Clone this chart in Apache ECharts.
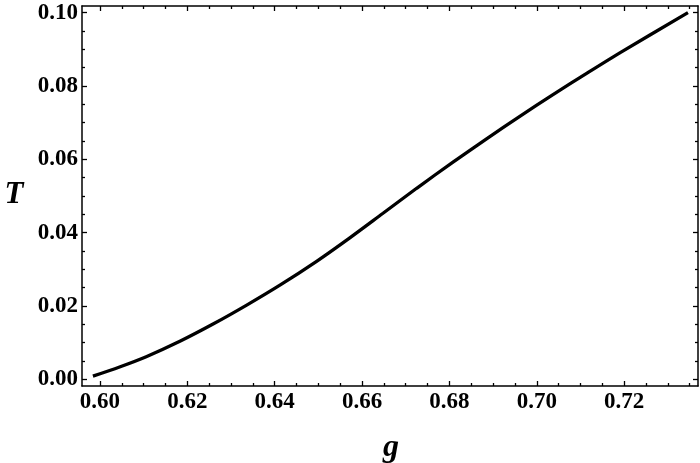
<!DOCTYPE html>
<html>
<head>
<meta charset="utf-8">
<script src="https://cdn.jsdelivr.net/npm/echarts@6/dist/echarts.min.js"></script>
<style>html,body{margin:0;padding:0;background:#fff}#c{width:700px;height:463px}</style>
</head>
<body>
<div id="c"></div>
<script>
var gValues = [0.5984, 0.6045, 0.6106, 0.6183, 0.6259, 0.6335, 0.6412, 0.6496, 0.6572, 0.6648, 0.6725, 0.6809, 0.6885, 0.6962, 0.7038, 0.7115, 0.7191, 0.7346];
var tValues = [0.0009, 0.0034, 0.0062, 0.0104, 0.0151, 0.0202, 0.0257, 0.0322, 0.0386, 0.0453, 0.0521, 0.0593, 0.0656, 0.0718, 0.0777, 0.0835, 0.0891, 0.1000];
var xTicks = [0.60, 0.62, 0.64, 0.66, 0.68, 0.70, 0.72];
var yTicks = [0.00, 0.02, 0.04, 0.06, 0.08, 0.10];
var xLabels = ['0.60', '0.62', '0.64', '0.66', '0.68', '0.70', '0.72'];
var yLabels = ['0.00', '0.02', '0.04', '0.06', '0.08', '0.10'];

var xMin = 0.5959, xMax = 0.7369, yMin = -0.0018, yMax = 0.1018;

function minors(majors, lo, hi) {
  var step = (majors[1] - majors[0]) / 4, out = [];
  for (var v = majors[0] - 4 * step; v <= majors[majors.length - 1] + 4 * step + 1e-9; v += step) {
    var r = Math.round(v * 10000) / 10000;
    if (r > lo && r < hi && majors.every(function (m) { return Math.abs(m - r) > 1e-6; })) out.push(r);
  }
  return out;
}
var xMinor = minors(xTicks, xMin, xMax);
var yMinor = minors(yTicks, yMin, yMax);

var font = '"Liberation Serif", "Times New Roman", serif';
function axis(kind, pos, ticks, len, labels, showLine) {
  return {
    type: 'value', position: pos,
    min: kind === 'x' ? xMin : yMin, max: kind === 'x' ? xMax : yMax,
    splitLine: { show: false },
    axisLine: { show: showLine, onZero: false, lineStyle: { color: '#000', width: 1.5 } },
    axisTick: { show: true, inside: true, length: len, customValues: ticks, lineStyle: { color: '#000', width: 1.3 } },
    axisLabel: labels ? {
      show: true, customValues: ticks, color: '#000', fontFamily: font, fontWeight: 'bold', fontSize: 23,
      margin: kind === 'x' ? 5 : 4,
      formatter: function (v) {
        var arr = kind === 'x' ? xTicks : yTicks, lab = kind === 'x' ? xLabels : yLabels;
        for (var i = 0; i < arr.length; i++) if (Math.abs(arr[i] - v) < 1e-6) return lab[i];
        return '';
      }
    } : { show: false }
  };
}

var chart = echarts.init(document.getElementById('c'), null, { renderer: 'canvas' });
chart.setOption({
  animation: false,
  backgroundColor: '#fff',
  grid: { left: 82, right: 2, top: 6, bottom: 77, containLabel: false, outerBoundsMode: 'none' },
  xAxis: [
    axis('x', 'bottom', xTicks, 5, true, true),
    axis('x', 'bottom', xMinor, 3, false, false),
    axis('x', 'top', xTicks, 5, false, true),
    axis('x', 'top', xMinor, 3, false, false)
  ],
  yAxis: [
    axis('y', 'left', yTicks, 5, true, true),
    axis('y', 'left', yMinor, 3, false, false),
    axis('y', 'right', yTicks, 5, false, true),
    axis('y', 'right', yMinor, 3, false, false)
  ],
  series: [{
    type: 'line', xAxisIndex: 0, yAxisIndex: 0,
    data: gValues.map(function (g, i) { return [g, tValues[i]]; }),
    smooth: 0.3, showSymbol: false, symbol: 'none',
    lineStyle: { color: '#000', width: 3.3 }
  }],
  graphic: [
    { type: 'text', x: 14, y: 210, style: { text: 'T', align: 'center', verticalAlign: 'bottom', fontFamily: font, fontWeight: 'bold', fontStyle: 'italic', fontSize: 31, fill: '#000' } },
    { type: 'text', x: 391, y: 464, style: { text: 'g', align: 'center', verticalAlign: 'bottom', fontFamily: font, fontWeight: 'bold', fontStyle: 'italic', fontSize: 32, fill: '#000' } }
  ]
});
</script>
</body>
</html>
